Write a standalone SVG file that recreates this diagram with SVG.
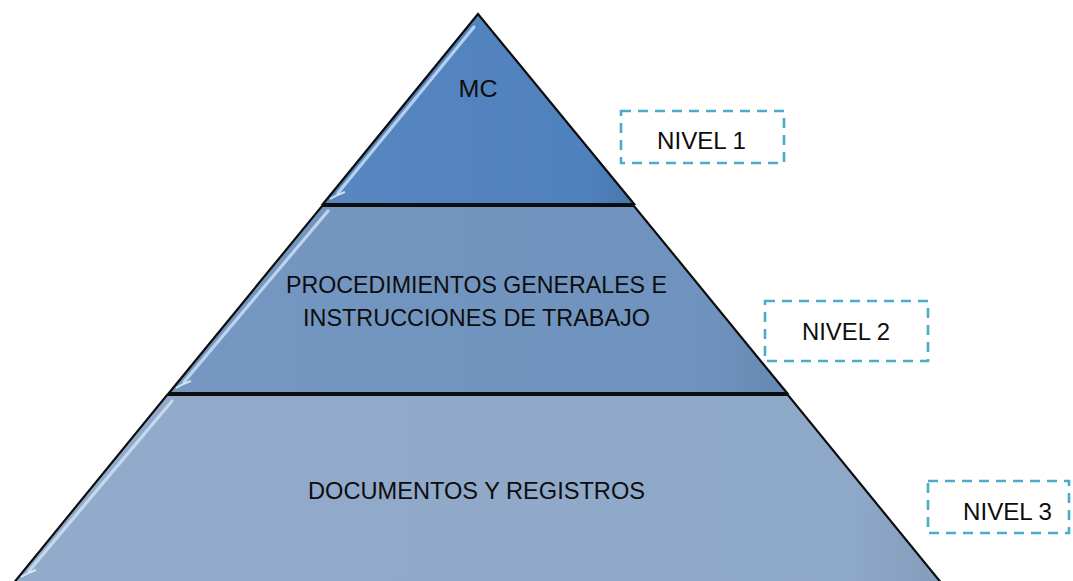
<svg xmlns="http://www.w3.org/2000/svg" width="1073" height="581" viewBox="0 0 1073 581">
  <style>
    .seg { stroke: #0d0d0d; stroke-width: 2.2; stroke-linejoin: miter; }
    .lbl { font-family: "Liberation Sans", Arial, sans-serif; font-size: 24px; fill: #0d0d0d; text-anchor: middle; }
    .box { fill: #ffffff; stroke: #4bacc6; stroke-width: 2.6; stroke-dasharray: 10 7; }
    .gloss { fill: none; stroke: #d6e8f9; stroke-width: 3.2; stroke-linecap: round; opacity: 0.75; }
    .curl { fill: none; stroke: #e3effb; stroke-width: 2; opacity: 0.85; }
  </style>
  <defs>
    <linearGradient id="g1" x1="0" y1="0" x2="1" y2="0">
      <stop offset="0" stop-color="#5887c1"/>
      <stop offset="0.85" stop-color="#4f81bd"/>
      <stop offset="1" stop-color="#4877ad"/>
    </linearGradient>
    <linearGradient id="g2" x1="0" y1="0" x2="1" y2="0">
      <stop offset="0" stop-color="#7597c2"/>
      <stop offset="0.88" stop-color="#6f93be"/>
      <stop offset="1" stop-color="#6587b2"/>
    </linearGradient>
    <linearGradient id="g3" x1="0" y1="0" x2="1" y2="0">
      <stop offset="0" stop-color="#93abcb"/>
      <stop offset="0.9" stop-color="#8ea8c8"/>
      <stop offset="1" stop-color="#839cbb"/>
    </linearGradient>
  </defs>

  <g id="level1">
    <polygon class="seg" points="478,14 323,204 634,204" fill="url(#g1)"/>
    <path class="gloss" d="M338,193 L474,27"/>
    <path class="curl" d="M330,199 Q336,195 345,192"/>
    <text class="lbl" x="478" y="97" textLength="39" lengthAdjust="spacingAndGlyphs">MC</text>
  </g>

  <g id="level2">
    <polygon class="seg" points="322,206 634,206 787,393 169,393" fill="url(#g2)"/>
    <path class="gloss" d="M184,382 L328,211"/>
    <path class="curl" d="M176,388 Q182,384 191,381"/>
    <text class="lbl" x="476.5" y="293" textLength="381" lengthAdjust="spacingAndGlyphs">PROCEDIMIENTOS GENERALES E</text>
    <text class="lbl" x="476.5" y="326" textLength="347" lengthAdjust="spacingAndGlyphs">INSTRUCCIONES DE TRABAJO</text>
  </g>

  <g id="level3">
    <polygon class="seg" points="167,395 788,395 947,590 8,590" fill="url(#g3)"/>
    <path class="gloss" d="M29,571 L172,401"/>
    <path class="curl" d="M21,577 Q27,573 36,570"/>
    <text class="lbl" x="476.5" y="499" textLength="337" lengthAdjust="spacingAndGlyphs">DOCUMENTOS Y REGISTROS</text>
  </g>

  <g id="label1">
    <rect class="box" x="621" y="111" width="163" height="52"/>
    <text class="lbl" x="701.5" y="149" textLength="89" lengthAdjust="spacingAndGlyphs">NIVEL 1</text>
  </g>

  <g id="label2">
    <rect class="box" x="765" y="301" width="163" height="60"/>
    <text class="lbl" x="846" y="340" textLength="88" lengthAdjust="spacingAndGlyphs">NIVEL 2</text>
  </g>

  <g id="label3">
    <rect class="box" x="928" y="481" width="141" height="52"/>
    <text class="lbl" x="1007.5" y="520" textLength="89" lengthAdjust="spacingAndGlyphs">NIVEL 3</text>
  </g>

  <g id="connectors"></g>
</svg>
